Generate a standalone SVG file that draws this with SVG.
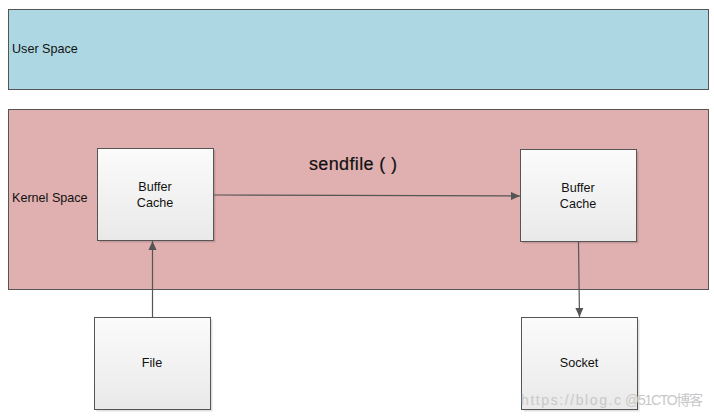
<svg xmlns="http://www.w3.org/2000/svg" width="714" height="417" viewBox="0 0 714 417">
<defs>
<linearGradient id="boxg" x1="0" y1="0" x2="0" y2="1">
<stop offset="0" stop-color="#fbfbfb"/>
<stop offset="1" stop-color="#e9e9e9"/>
</linearGradient>
<marker id="arr" markerWidth="10" markerHeight="10" refX="9" refY="5" orient="auto" markerUnits="userSpaceOnUse">
<path d="M0,1 L9,5 L0,9 Z" fill="#555"/>
</marker>
</defs>
<style>
.lbl{font-family:"Liberation Sans",Arial,sans-serif;font-size:12.6px;fill:#111}
.ctr{text-anchor:middle}
.box{fill:url(#boxg);stroke:#555;stroke-width:1}
.shadow{fill:#000;opacity:0.12}
.conn{stroke:#555;stroke-width:1.2;fill:none;marker-end:url(#arr)}
</style>
<rect width="714" height="417" fill="#fff"/>
<g id="user-space">
<rect x="8.5" y="9.5" width="700" height="80" fill="#add8e3" stroke="#555"/>
<text class="lbl" x="12" y="53">User Space</text>
</g>
<g id="kernel-space">
<rect x="8.5" y="109.5" width="700" height="180" fill="#e0afaf" stroke="#555"/>
<text class="lbl" x="12" y="202">Kernel Space</text>
<text x="309" y="170" textLength="88" style="font-family:'Liberation Sans',Arial,sans-serif;font-size:18px;fill:#111;stroke:#111;stroke-width:0.2">sendfile ( )</text>
</g>
<g id="buffer-cache-left">
<rect class="shadow" x="99.5" y="150.5" width="116" height="92"/>
<rect class="box" x="97.5" y="148.5" width="116" height="92"/>
<text class="lbl ctr" x="155" y="191">Buffer</text>
<text class="lbl ctr" x="155" y="207">Cache</text>
</g>
<g id="buffer-cache-right">
<rect class="shadow" x="522.5" y="151.5" width="116" height="92"/>
<rect class="box" x="520.5" y="149.5" width="116" height="92"/>
<text class="lbl ctr" x="578" y="192">Buffer</text>
<text class="lbl ctr" x="578" y="208">Cache</text>
</g>
<g id="file">
<rect class="shadow" x="96.5" y="319.5" width="116" height="92"/>
<rect class="box" x="94.5" y="317.5" width="116" height="92"/>
<text class="lbl ctr" x="152" y="367">File</text>
</g>
<g id="socket">
<rect class="shadow" x="523.5" y="319.5" width="116" height="92"/>
<rect class="box" x="521.5" y="317.5" width="116" height="92"/>
<text class="lbl ctr" x="579" y="367">Socket</text>
</g>
<g id="connectors">
<path class="conn" d="M152.5,317 L152.5,241"/>
<path class="conn" d="M213.5,195 L520,196"/>
<path class="conn" d="M578.5,242 L579.5,317"/>
</g>
<g id="watermark" style="font-family:'Liberation Sans',Arial,'Noto Sans CJK SC',sans-serif;font-size:14px;fill:#c8c8c8">
<text x="521" y="405" textLength="100">https://blog.c</text>
<text x="625" y="405" textLength="78">@51CTO博客</text>
</g>
</svg>
